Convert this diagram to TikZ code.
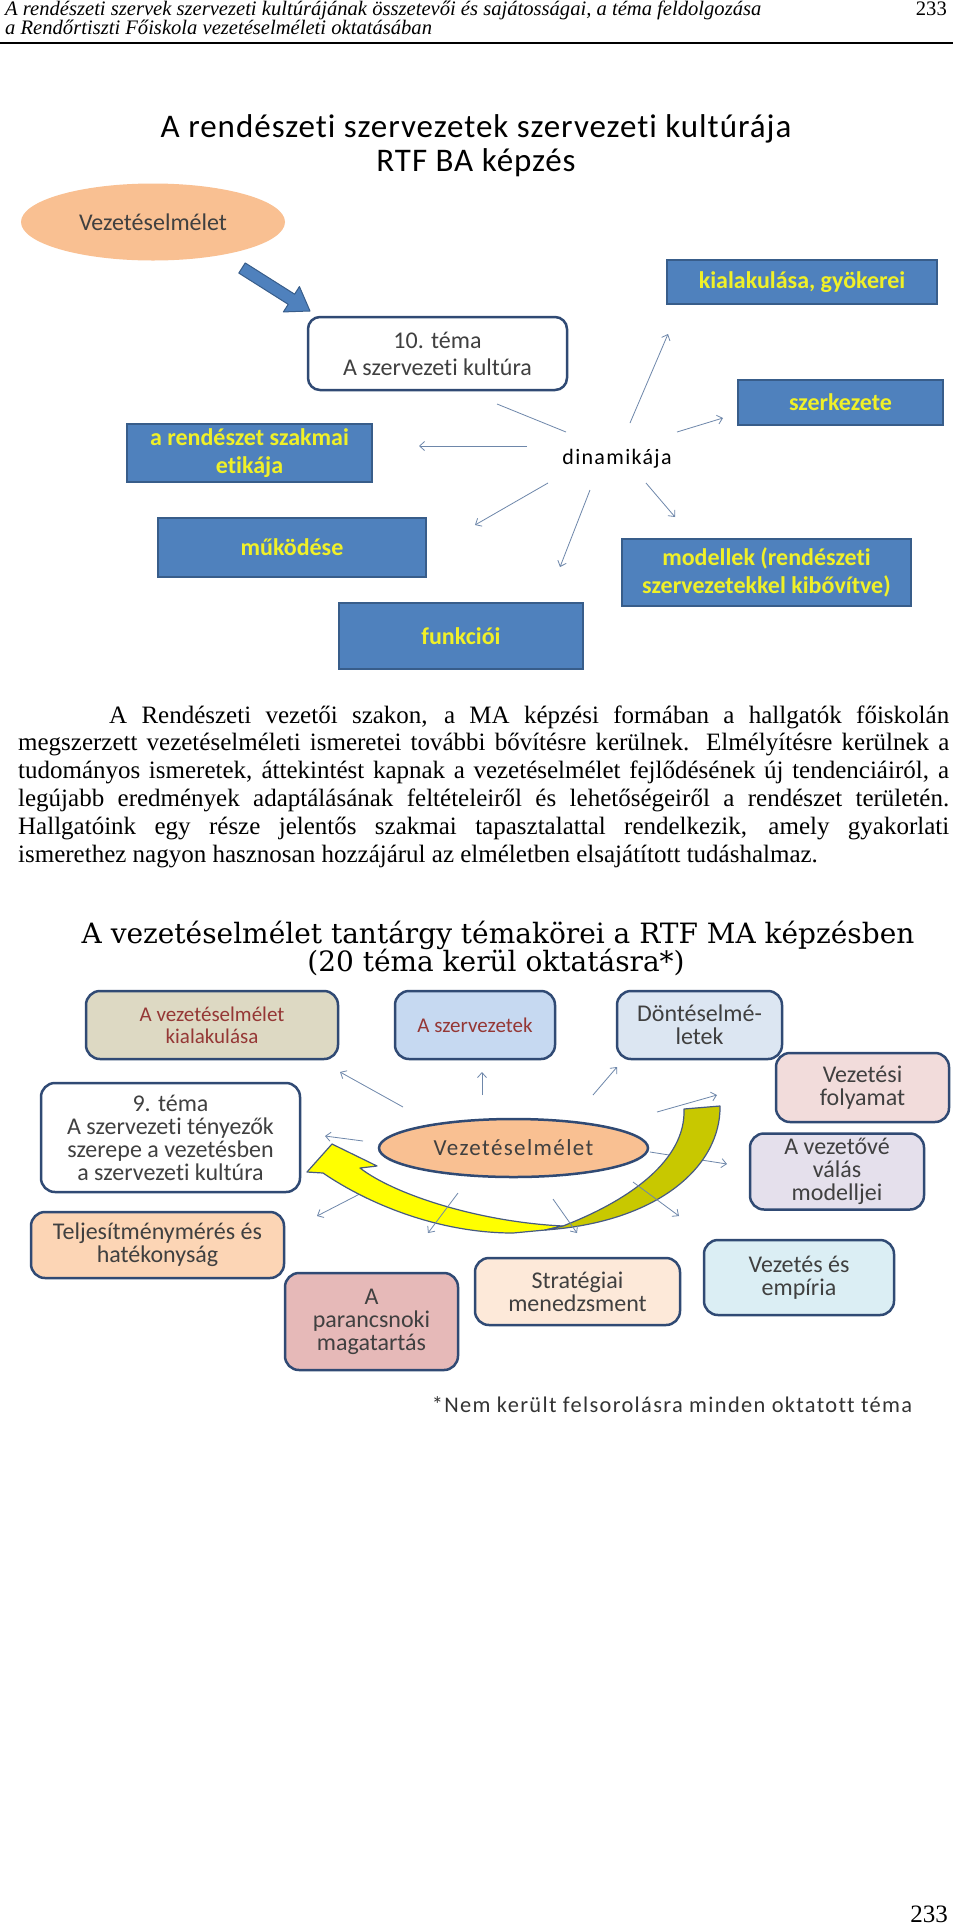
\documentclass[tikz,border=0pt]{standalone}
\usepackage{fontspec}
\setmainfont{Liberation Serif}
\newfontfamily\calibri[Ligatures=NoCommon]{Carlito}
\newfontfamily\calibrisp[Ligatures=NoCommon,LetterSpace=6]{Carlito}
\newfontfamily\calibriwide[Ligatures=NoCommon,LetterSpace=3]{Carlito}
\newfontfamily\slabserif{DejaVu Serif}
\usetikzlibrary{arrows.meta,calc,shapes.geometric}

\definecolor{boxblue}{RGB}{79,129,189}
\definecolor{boxedge}{RGB}{56,93,138}
\definecolor{lemon}{RGB}{240,240,40}
\definecolor{peach}{RGB}{249,192,146}
\definecolor{frame}{RGB}{48,74,116}
\definecolor{ink}{RGB}{64,64,64}
\definecolor{rust}{RGB}{149,55,53}
\definecolor{raycol}{RGB}{110,135,170}
\definecolor{sand}{RGB}{221,217,195}
\definecolor{skyA}{RGB}{198,217,241}
\definecolor{skyB}{RGB}{220,230,242}
\definecolor{rose}{RGB}{242,220,219}
\definecolor{lilac}{RGB}{229,224,236}
\definecolor{apricot}{RGB}{252,213,181}
\definecolor{blush}{RGB}{230,185,184}
\definecolor{cream}{RGB}{253,233,217}
\definecolor{aqua}{RGB}{219,238,244}
\definecolor{ribbonfront}{RGB}{255,255,0}
\definecolor{ribbonback}{RGB}{200,200,0}
\definecolor{ribbonedge}{RGB}{70,90,130}

\begin{document}
\begin{tikzpicture}[x=1pt, y=-1pt,
    bluebox/.style={draw=boxedge, line width=1.5pt, fill=boxblue, text=lemon,
      font=\calibri\bfseries\fontsize{24}{28}\selectfont, align=center, inner sep=0pt},
    topicbox/.style={draw=frame, line width=2.5pt, rounded corners=14pt, text=ink,
      font=\calibri\fontsize{24}{23}\selectfont, align=center, inner sep=0pt},
    ray/.style={draw=raycol, line width=0.8pt, -{Straight Barb[length=5pt,width=9pt]}}]

    % page and header
    \path[fill=white, use as bounding box] (0,0) rectangle (960,1928);
    \node[anchor=base west, inner sep=0pt, font=\itshape\fontsize{20.6}{18}\selectfont] (head1) at (5,15)
        {A rendészeti szervek szervezeti kultúrájának összetevői és sajátosságai, a téma feldolgozása};
    \node[anchor=base west, inner sep=0pt, font=\itshape\fontsize{20.6}{18}\selectfont] (head2) at (5,34)
        {a Rendőrtiszti Főiskola vezetéselméleti oktatásában};
    \node[anchor=base east, inner sep=0pt, font=\fontsize{20.6}{18}\selectfont] (headnum) at (947,15) {233};
    \draw[line width=2pt] (0,43) -- (953,43);

    % elso abra: RTF BA
    \node[anchor=base, inner sep=0pt, font=\calibriwide\fontsize{33}{36}\selectfont] (titleA1) at (476,137)
        {A rendészeti szervezetek szervezeti kultúrája};
    \node[anchor=base, inner sep=0pt, font=\calibriwide\fontsize{33}{36}\selectfont] (titleA2) at (476,171)
        {RTF BA képzés};

    \node[ellipse, fill=peach, minimum width=264pt, minimum height=77pt, inner sep=0pt, text=ink,
        font=\calibri\fontsize{24}{28}\selectfont] (theory) at (153,222) {Vezetéselmélet};
    \node[topicbox, line width=2.5pt, rounded corners=12pt, fill=white, minimum width=259pt, minimum height=73pt,
        font=\calibri\fontsize{24}{27}\selectfont] (topic10) at (437.5,353.5) {10. téma\\A szervezeti kultúra};

    % vastag kek nyil
    \coordinate (blockstart) at (242,268);
    \coordinate (blockend) at (310,311);
    \coordinate (blockneck) at ($(blockend)!22pt!(blockstart)$);
    \filldraw[fill=boxblue, draw=boxedge, line width=1pt, line join=round]
        ($(blockstart)!6pt!90:(blockend)$) -- ($(blockneck)!6pt!90:(blockend)$)
        -- ($(blockneck)!15pt!90:(blockend)$) -- (blockend)
        -- ($(blockneck)!15pt!-90:(blockend)$) -- ($(blockneck)!6pt!-90:(blockend)$)
        -- ($(blockstart)!6pt!-90:(blockend)$) -- cycle;

    \node[bluebox, minimum width=270pt, minimum height=44pt] (roots) at (802,282) {kialakulása, gyökerei};
    \node[bluebox, minimum width=205pt, minimum height=45pt] (struct) at (840.5,402.5) {szerkezete};
    \node[bluebox, minimum width=245pt, minimum height=58pt] (ethics) at (249.5,453) {a rendészet szakmai\\etikája};
    \node[bluebox, minimum width=268pt, minimum height=59pt] (works) at (292,547.5) {működése};
    \node[bluebox, minimum width=289pt, minimum height=67pt] (models) at (766.5,572.5)
        {modellek (rendészeti\\szervezetekkel kibővítve)};
    \node[bluebox, minimum width=244pt, minimum height=66pt] (funcs) at (461,636) {funkciói};

    \node[inner sep=0pt, font=\calibrisp\fontsize{22}{26}\selectfont] (dyn) at (617,459) {dinamikája};
    \foreach \sx/\sy/\ex/\ey in {-90/-13/-198/-13, 13/-36/51/-125, 60/-27/106/-41,
        -69/24/-142/66, -27/31/-57/108, 29/24/58/58}
        \draw[ray] ($(dyn)+(\sx,\sy)$) -- ($(dyn)+(\ex,\ey)$);
    \draw[ray, -] ($(dyn)+(-51,-27)$) -- ($(dyn)+(-120,-55)$);

    % szoveg
    \node[anchor=base west, inner sep=0pt, text width=931pt, align=justify,
        font=\fontsize{25}{27.8}\selectfont] (para) at (18,723)
        {\hyphenpenalty=10000\exhyphenpenalty=10000\hspace*{91pt}A Rendészeti vezetői szakon, a MA képzési formában a hallgatók főiskolán\linebreak
        megszerzett vezetéselméleti ismeretei további bővítésre kerülnek. Elmélyítésre kerülnek a\linebreak
        tudományos ismeretek, áttekintést kapnak a vezetéselmélet fejlődésének új tendenciáiról, a\linebreak
        legújabb eredmények adaptálásának feltételeiről és lehetőségeiről a rendészet területén.\linebreak
        Hallgatóink egy része jelentős szakmai tapasztalattal rendelkezik, amely gyakorlati\linebreak
        ismerethez nagyon hasznosan hozzájárul az elméletben elsajátított tudáshalmaz.};

    % masodik abra: RTF MA
    \node[anchor=base, inner sep=0pt, font=\slabserif\fontsize{28}{30}\selectfont] (titleB1) at (498,943)
        {A vezetéselmélet tantárgy témakörei a RTF MA képzésben};
    \node[anchor=base, inner sep=0pt, font=\slabserif\fontsize{28}{30}\selectfont] (titleB2) at (496,971)
        {(20 téma kerül oktatásra*)};

    \node[topicbox, fill=sand, text=rust, minimum width=252pt, minimum height=68pt,
        font=\calibri\fontsize{21}{22}\selectfont] (origin) at (212,1025) {A vezetéselmélet\\kialakulása};
    \node[topicbox, fill=skyA, text=rust, minimum width=160pt, minimum height=68pt,
        font=\calibri\fontsize{21}{22}\selectfont] (orgs) at (475,1025) {A szervezetek};
    \node[topicbox, fill=skyB, minimum width=165pt, minimum height=68pt] (decis) at (699.5,1025) {Döntéselmé-\\letek};
    \node[topicbox, fill=rose, minimum width=173pt, minimum height=69pt] (process) at (862.5,1087.5) {Vezetési\\folyamat};
    \node[topicbox, fill=white, minimum width=259pt, minimum height=109pt] (topic9) at (170.5,1137.5)
        {9. téma\\A szervezeti tényezők\\szerepe a vezetésben\\a szervezeti kultúra};
    \node[topicbox, fill=lilac, minimum width=174pt, minimum height=76pt] (leader) at (837,1171.5)
        {A vezetővé\\válás\\modelljei};
    \node[topicbox, fill=apricot, minimum width=253pt, minimum height=66pt] (perf) at (157.5,1245)
        {Teljesítménymérés és\\hatékonyság};
    \node[topicbox, fill=blush, minimum width=173pt, minimum height=97pt] (command) at (371.5,1321.5)
        {A\\parancsnoki\\magatartás};
    \node[topicbox, fill=cream, minimum width=205pt, minimum height=67pt] (strat) at (577.5,1291.5)
        {Stratégiai\\menedzsment};
    \node[topicbox, fill=aqua, minimum width=190pt, minimum height=75pt] (empir) at (799,1277.5)
        {Vezetés és\\empíria};

    \node[ellipse, draw=frame, line width=2.5pt, fill=peach, minimum width=269pt, minimum height=58pt,
        inner sep=0pt, text=ink, font=\calibrisp\fontsize{23}{26}\selectfont] (core) at (513.5,1148) {Vezetéselmélet};

    % nyilak a sarga szalag mogott
    \foreach \sx/\sy/\ex/\ey in {136.5/4/213.5/16, -130.5/34/-196.5/68}
        \draw[ray] ($(core)+(\sx,\sy)$) -- ($(core)+(\ex,\ey)$);

    % sarga szalag
    \filldraw[fill=ribbonfront, draw=ribbonedge, line width=1.2pt, line join=round]
        (563,1226) .. controls (480,1222) and (395,1195) .. (360,1168)
        -- (377,1166) -- (332,1144) -- (307,1172) -- (323,1173)
        .. controls (370,1205) and (440,1233) .. (513,1233) -- (545,1230) -- cycle;
    \filldraw[fill=ribbonback, draw=ribbonedge, line width=1.2pt, line join=round]
        (684,1109) -- (720,1106) .. controls (721,1165) and (660,1222) .. (545,1230)
        -- (563,1226) .. controls (630,1200) and (686,1160) .. (684,1109) -- cycle;

    \foreach \sx/\sy/\ex/\ey in {-110.5/-41/-173.5/-76, -31.5/-53/-31.5/-76, 79.5/-53/103.5/-81,
        143.5/-36/203.5/-53, -150.5/-7/-188.5/-12, -55.5/45/-85.5/85, 39.5/51/63.5/85, 119.5/34/165.5/68}
        \draw[ray] ($(core)+(\sx,\sy)$) -- ($(core)+(\ex,\ey)$);

    \node[anchor=base, inner sep=0pt, text=ink!80!black, font=\calibrisp\fontsize{22.4}{26}\selectfont] (note) at (672,1412)
        {*Nem került felsorolásra minden oktatott téma};

    % oldalszam
    \node[anchor=base east, inner sep=0pt, font=\fontsize{25}{27}\selectfont] (pagenum) at (948,1922) {233};
\end{tikzpicture}
\end{document}
